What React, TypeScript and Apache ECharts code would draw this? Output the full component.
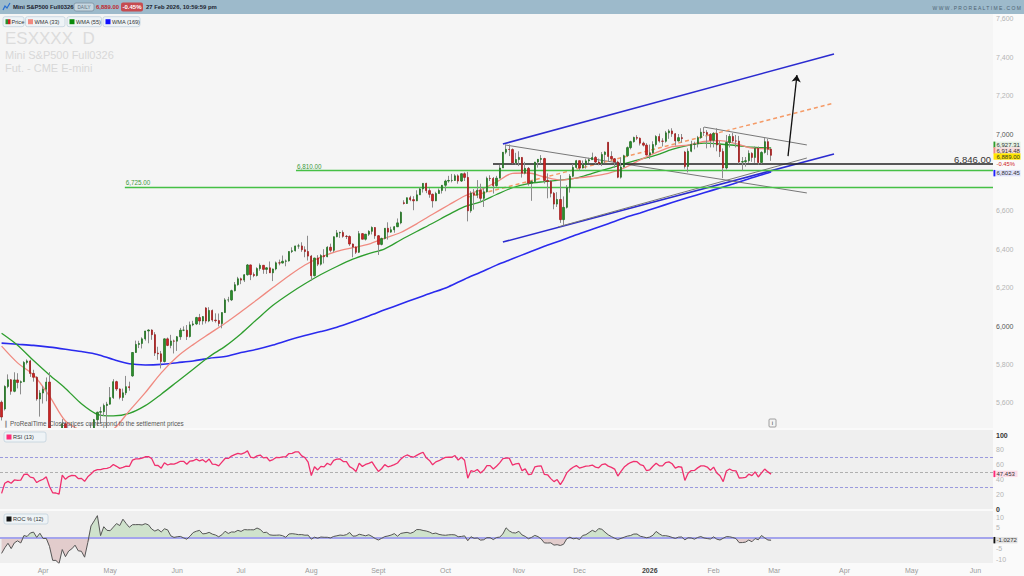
import React, { useEffect, useRef } from "react";
import * as echarts from "echarts";

const FONT = "Liberation Sans, Arial, sans-serif";

// ---------- calendar ----------
const firstSession = "2025-03-13";
const sessionCount = 311;
const holidays = ["2025-04-18","2025-05-26","2025-06-19","2025-07-04","2025-09-01","2025-11-27","2025-12-25","2026-01-01","2026-01-19","2026-02-16","2026-04-03","2026-05-25"];
const monthNames = ["2026","Feb","Mar","Apr","May","Jun","Jul","Aug","Sept","Oct","Nov","Dec"];

// ---------- price data (closes before the visible window, for indicators) ----------
const priorCloses = [6137,6152,6125,6021,5991,5963,5963,5867,5961,5855,5784,5848,5743,5775,5618,5576,5603];

// [open, close, low, high]
const candles: number[][] = [
[5603,5526,5508,5612],[5568,5685,5560,5691],[5685,5720,5676,5748],[5720,5660,5642,5724],[5660,5719,5655,5759],
[5719,5706,5675,5754],[5706,5710,5644,5716],[5710,5810,5708,5817],[5810,5818,5800,5826],[5818,5753,5735,5824],
[5753,5733,5710,5772],[5733,5620,5611,5738],[5620,5651,5528,5666],[5651,5671,5596,5688],[5671,5708,5608,5732],
[5708,5434,5427,5760],[5434,5110,5105,5450],[5110,5097,4870,5281],[5097,5017,4945,5302],[5017,5491,4891,5515],
[5491,5301,5148,5500],[5301,5396,5254,5414],[5396,5438,5390,5491],[5438,5428,5410,5481],[5428,5307,5251,5440],
[5307,5313,5285,5358],[5313,5187,5130,5318],[5187,5316,5180,5337],[5316,5403,5310,5496],[5403,5512,5390,5516],
[5512,5551,5481,5554],[5551,5554,5493,5579],[5554,5586,5531,5596],[5586,5593,5458,5605],[5593,5627,5590,5682],
[5627,5710,5620,5723],[5710,5672,5662,5715],[5672,5628,5618,5675],[5628,5652,5610,5674],[5652,5684,5640,5740],
[5684,5679,5663,5710],[5740,5862,5735,5864],[5862,5904,5860,5924],[5904,5909,5885,5923],[5909,5933,5883,5941],
[5933,5974,5924,5975],[5974,5979,5910,5983],[5979,5955,5928,5983],[5955,5859,5844,5968],[5859,5855,5824,5892],
[5855,5815,5779,5870],[5815,5933,5810,5936],[5933,5899,5895,5940],[5899,5922,5884,5954],[5922,5921,5857,5929],
[5921,5944,5870,5948],[5944,5978,5928,5990],[5978,5978,5973,5998],[5978,5945,5927,6005],[5945,6006,5940,6023],
[6006,6011,5999,6027],[6011,6044,6005,6048],[6044,6026,6006,6063],[6026,6049,6007,6052],[6094,6026,6013,6098],
[6026,6081,6020,6098],[6081,6031,6022,6086],[6031,6028,6018,6066],[6028,6013,5998,6065],[6013,6070,5988,6071],
[6070,6136,6068,6145],[6136,6136,6124,6152],[6136,6184,6130,6189],[6184,6215,6180,6229],[6215,6246,6210,6256],
[6246,6239,6218,6252],[6239,6267,6229,6270],[6267,6318,6262,6323],[6318,6268,6239,6320],[6268,6263,6254,6279],
[6263,6299,6258,6306],[6299,6316,6288,6326],[6316,6295,6272,6318],[6295,6303,6271,6307],[6303,6277,6276,6336],
[6277,6297,6234,6299],[6297,6329,6290,6336],[6329,6328,6316,6346],[6328,6337,6325,6367],[6337,6339,6311,6346],
[6339,6388,6335,6389],[6388,6392,6380,6410],[6392,6417,6388,6418],[6417,6417,6402,6428],[6417,6397,6386,6436],
[6397,6388,6358,6415],[6388,6364,6341,6470],[6364,6262,6236,6370],[6262,6354,6258,6356],[6354,6322,6312,6369],
[6322,6367,6315,6374],[6367,6361,6326,6400],[6361,6410,6358,6416],[6410,6394,6384,6429],[6394,6465,6384,6466],
[6465,6485,6462,6500],[6485,6487,6459,6491],[6487,6467,6460,6498],[6467,6466,6453,6474],[6466,6427,6417,6472],
[6427,6411,6358,6430],[6411,6384,6375,6415],[6384,6481,6380,6495],[6481,6452,6451,6484],[6452,6478,6445,6480],
[6478,6493,6469,6499],[6493,6513,6477,6519],[6513,6470,6454,6515],[6470,6425,6370,6474],[6425,6456,6420,6460],
[6456,6509,6451,6510],[6509,6489,6450,6540],[6489,6501,6485,6517],[6501,6517,6486,6520],[6517,6537,6515,6560],
[6537,6592,6530,6597],[6642,6638,6633,6655],[6638,6668,6636,6669],[6668,6658,6650,6678],[6658,6652,6603,6676],
[6652,6683,6650,6707],[6683,6714,6683,6721],[6714,6743,6695,6744],[6743,6705,6692,6746],[6705,6686,6668,6718],
[6686,6652,6617,6690],[6652,6690,6650,6699],[6690,6706,6690,6716],[6706,6733,6690,6734],[6733,6755,6702,6762],
[6755,6758,6746,6782],[6758,6758,6748,6792],[6758,6782,6755,6791],[6782,6755,6741,6790],[6755,6793,6750,6795],
[6793,6774,6755,6800],[6774,6600,6545,6803],[6600,6692,6590,6702],[6692,6681,6606,6713],[6681,6707,6666,6760],
[6707,6665,6645,6741],[6665,6699,6620,6718],[6699,6769,6695,6778],[6769,6768,6755,6785],[6768,6731,6690,6776],
[6731,6770,6725,6782],[6770,6823,6770,6839],[6823,6905,6823,6906],[6905,6920,6895,6945],[6920,6919,6885,6945],
[6919,6850,6845,6925],[6850,6867,6840,6902],[6867,6878,6833,6910],[6878,6796,6773,6880],[6796,6821,6790,6855],
[6821,6744,6731,6828],[6744,6752,6652,6760],[6752,6854,6750,6855],[6854,6868,6825,6870],[6868,6872,6845,6890],
[6872,6758,6742,6876],[6758,6753,6665,6795],[6753,6691,6670,6760],[6691,6635,6608,6698],[6635,6659,6620,6697],
[6659,6554,6537,6786],[6554,6618,6525,6675],[6618,6720,6612,6734],[6720,6780,6695,6791],[6780,6826,6775,6843],
[6826,6861,6820,6865],[6861,6823,6810,6862],[6823,6840,6820,6862],[6840,6860,6820,6872],[6860,6866,6849,6876],
[6866,6878,6865,6903],[6878,6854,6843,6885],[6854,6847,6837,6872],[6847,6893,6833,6906],[6893,6906,6848,6910],
[6957,6883,6857,6957],[6883,6871,6862,6910],[6871,6854,6824,6875],[6854,6775,6770,6861],[6775,6828,6768,6878],
[6828,6887,6825,6892],[6887,6929,6880,6935],[6929,6960,6920,6965],[6960,6982,6955,6986],[6982,6978,6968,6994],
[6978,6952,6940,6982],[6952,6942,6935,6960],[6942,6891,6888,6952],[6891,6902,6870,6945],[6902,6945,6898,6962],
[6945,6987,6935,6994],[6987,6963,6955,7002],[6963,6962,6935,6978],[6962,7006,6955,7016],[7006,7016,6975,7025],
[7016,7001,6985,7030],[7001,6964,6940,7005],[6964,6981,6960,7000],[6981,6976,6955,7000],[6906,6831,6820,6912],
[6831,6910,6800,6925],[6910,6946,6905,6965],[6946,6948,6920,6960],[6948,6981,6930,6990],[6981,7009,6975,7030],
[7009,7008,6990,7036],[7008,6998,6925,7020],[6998,6967,6930,7005],[6967,7003,6930,7010],[7003,6943,6910,7030],
[6943,6909,6880,6965],[6909,6823,6770,6925],[6823,6956,6815,6995],[6956,6987,6930,7000],[6987,6964,6955,7005],
[6964,6963,6930,6995],[6963,6854,6845,6990],[6854,6856,6810,6880],[6856,6861,6830,6880],[6861,6899,6850,6915],
[6899,6878,6855,6905],[6878,6925,6850,6935],[6925,6852,6840,6935],[6852,6904,6845,6910],[6904,6960,6898,6979],
[6960,6921,6890,6975],[6921,6889,6860,6925]
];

const maSessions = [0,5,10,15,20,25,30,35,40,45,50,55,60,65,70,75,80,85,90,95,100,105,110,115,120,125,130,135,140,145,150,155,160,165,170,175,180,185,190,195,200,205,210,215,220,225,230,235,240,241];
const wma33 = [5895,5808,5745,5635,5505,5455,5430,5462,5558,5653,5756,5840,5903,5959,6014,6074,6137,6200,6262,6318,6359,6389,6408,6426,6458,6487,6532,6582,6630,6677,6709,6750,6795,6797,6776,6760,6770,6780,6795,6823,6865,6903,6934,6942,6961,6966,6950,6927,6922,6914];
const wma55 = [5962,5900,5820,5745,5675,5595,5540,5532,5545,5585,5645,5710,5775,5840,5894,5960,6035,6108,6167,6220,6268,6310,6348,6377,6402,6448,6492,6535,6580,6622,6647,6685,6720,6742,6752,6760,6770,6795,6820,6845,6868,6890,6920,6941,6952,6948,6940,6932,6928,6927];
const wma169 = [5911,5905,5899,5890,5879,5867,5852,5825,5803,5797,5800,5809,5818,5832,5841,5862,5879,5901,5927,5950,5971,5994,6022,6052,6084,6115,6145,6174,6205,6244,6280,6317,6350,6383,6415,6444,6475,6504,6533,6563,6589,6616,6643,6669,6694,6719,6745,6772,6797,6802];

// last values shown on the price scale
const lastWma55 = 6927.31;
const lastWma33 = 6914.48;
const lastPrice = 6889.0;
const lastChange = "-0.45%";
const lastWma169 = 6802.45;
const lastRsi = "47.453";
const lastRoc = "-1.0272";

// drawn objects: [session index, price]
const trendlines = [
  { id: "chanTop", from: [157.0, 6948], to: [260.7, 7417] },
  { id: "chanBot", from: [157.0, 6437], to: [260.7, 6896] },
  { id: "grayDown", from: [157.7, 6943], to: [252.2, 6693] },
  { id: "grayDown2", from: [220.0, 7036], to: [252.2, 6943] },
  { id: "grayUp", from: [174.3, 6516], to: [252.2, 6875] },
  { id: "orange", from: [146.1, 6672], to: [260.7, 7161] },
];
const arrowLine = { from: [246.3, 6885], to: [249.1, 7307] };
const levels = [
  { id: "black", price: 6846, fromSession: 153.9 },
  { id: "green1", price: 6810, fromSession: 92.2 },
  { id: "green2", price: 6725, fromSession: 38.6 },
];

// axis ticks (6,800 is hidden behind the value tags in the reference)
const priceTicks = [5600,5800,6000,6200,6400,6600,7000,7200,7400,7600];
const rsiTicks = [0,20,40,60,80,100];
const rocTicks = [-10,-5,5,10];
const rsiGuides = [70, 50, 30];

const lineStyles: Record<string, any> = {
  chanTop: { color: "#2b2bd0", width: 1.6, opacity: 1 },
  chanBot: { color: "#2b2bd0", width: 1.6, opacity: 1 },
  grayDown: { color: "#777", width: 1, opacity: 1 },
  grayDown2: { color: "#777", width: 1, opacity: 1 },
  grayUp: { color: "#777", width: 1, opacity: 1 },
  orange: { color: "#f59a66", width: 1.5, type: [4, 3], opacity: 1 },
  black: { color: "#222", width: 1.5, opacity: 1 },
  green1: { color: "#46c046", width: 1.3, opacity: 1 },
  green2: { color: "#46c046", width: 1.3, opacity: 1 },
};

function buildSessions(): string[] {
  const out: string[] = [];
  const hol = new Set(holidays);
  const d = new Date(firstSession + "T00:00:00Z");
  while (out.length < sessionCount) {
    const wd = d.getUTCDay();
    const s = d.toISOString().slice(0, 10);
    if (wd !== 0 && wd !== 6 && !hol.has(s)) out.push(s);
    d.setUTCDate(d.getUTCDate() + 1);
  }
  return out;
}

function calcRsi(closes: number[], n: number): (number | null)[] {
  const out: (number | null)[] = closes.map(() => null);
  let g = 0, l = 0;
  for (let i = 1; i <= n; i++) {
    const ch = closes[i] - closes[i - 1];
    if (ch > 0) g += ch; else l -= ch;
  }
  g /= n; l /= n;
  out[n] = l === 0 ? 100 : 100 - 100 / (1 + g / l);
  for (let i = n + 1; i < closes.length; i++) {
    const ch = closes[i] - closes[i - 1];
    g = (g * (n - 1) + Math.max(ch, 0)) / n;
    l = (l * (n - 1) + Math.max(-ch, 0)) / n;
    out[i] = l === 0 ? 100 : 100 - 100 / (1 + g / l);
  }
  return out;
}

function calcRoc(closes: number[], n: number): (number | null)[] {
  return closes.map((c, i) => (i >= n ? (c / closes[i - n] - 1) * 100 : null));
}

const fmt = (v: number, d = 0) => v.toLocaleString("en-US", { minimumFractionDigits: d, maximumFractionDigits: d });

export default function App() {
  const ref = useRef<HTMLDivElement>(null);
  useEffect(() => {
    if (!ref.current) return;
    const chart = echarts.init(ref.current, undefined, { renderer: "svg" });
    const sessions = buildSessions();
    const N = sessions.length;
    const closes = [...priorCloses, ...candles.map((c) => c[1])];
    const rsiAll = calcRsi(closes, 13).slice(priorCloses.length);
    const rocAll = calcRoc(closes, 12).slice(priorCloses.length);
    const monthStart = sessions.map((s, i) => i > 0 && s.slice(5, 7) !== sessions[i - 1].slice(5, 7));

    const PMIN = 5468.75, PMAX = 7625;
    const RMIN = 0, RMAX = 106.8;
    const OMIN = -11.9, OMAX = 12.86;
    const BG = "#fafafa";

    const xCat = (grid: number, showLabels: boolean) => ({
      type: "category", gridIndex: grid, data: sessions, boundaryGap: true, z: 12,
      axisLine: { show: false }, axisTick: { show: false }, splitLine: { show: false },
      axisLabel: showLabels ? {
        show: true, interval: (i: number) => monthStart[i], margin: 4,
        fontSize: 7, color: "#9a9a9a", fontFamily: FONT,
        formatter: (v: string) => {
          const m = parseInt(v.slice(5, 7), 10) - 1;
          return m === 0 ? "{yr|" + v.slice(0, 4) + "}" : monthNames[m];
        },
        rich: { yr: { fontWeight: "bold", color: "#444", fontSize: 7, fontFamily: FONT } },
      } : { show: false },
    });
    const xVal = (grid: number) => ({ type: "value", gridIndex: grid, min: -0.5, max: N - 0.5, show: false });

    const wickData = candles.map((c) => c);
    const bodyData = candles.map((c) => [c[0], c[1], Math.min(c[0], c[1]), Math.max(c[0], c[1])]);

    const maSeries = (name: string, vals: number[], color: string, width: number) => ({
      type: "line", name, xAxisIndex: 1, yAxisIndex: 0, data: maSessions.map((s, k) => [s, vals[k]]),
      showSymbol: false, smooth: 0.3, lineStyle: { color, width }, silent: true, z: 3,
    });

    const lineData = [
      ...trendlines.map((t) => ({ coords: [t.from, t.to], lineStyle: lineStyles[t.id] })),
      ...levels.map((l) => ({ coords: [[l.fromSession, l.price], [N - 0.5, l.price]], lineStyle: lineStyles[l.id] })),
    ];

    const axisLabelBase = { fontSize: 7, fontFamily: FONT, margin: 3 };

    chart.setOption({
      animation: false,
      backgroundColor: BG,
      grid: [
        { left: 0, top: 14, width: 993, height: 414, show: true, backgroundColor: "#f5f5f5", borderWidth: 0 },
        { left: 0, top: 430, width: 993, height: 79, show: false },
        { left: 0, top: 511, width: 993, height: 52, show: false },
      ],
      xAxis: [xCat(0, false), xVal(0), xCat(1, false), xCat(2, true)],
      yAxis: [
        { type: "value", gridIndex: 0, position: "right", min: PMIN, max: PMAX, z: 12,
          axisLine: { show: false }, axisTick: { show: false }, splitLine: { show: false },
          axisLabel: { ...axisLabelBase, customValues: priceTicks,
            formatter: (v: number) => (v % 1000 === 0 ? "{k|" + fmt(v) + "}" : fmt(v)), color: "#b4b4b4",
            rich: { k: { color: "#555", fontSize: 7, fontFamily: FONT } } } },
        { type: "value", gridIndex: 1, position: "right", min: RMIN, max: RMAX, z: 12,
          axisLine: { show: false }, axisTick: { show: false }, splitLine: { show: false },
          axisLabel: { ...axisLabelBase, customValues: rsiTicks, color: "#b4b4b4",
            formatter: (v: number) => (v === 0 || v === 100 ? "{k|" + v + "}" : String(v)),
            rich: { k: { color: "#333", fontWeight: "bold", fontSize: 7, fontFamily: FONT } } } },
        { type: "value", gridIndex: 2, position: "right", min: OMIN, max: OMAX, z: 12,
          axisLine: { show: false }, axisTick: { show: false }, splitLine: { show: false },
          axisLabel: { ...axisLabelBase, customValues: rocTicks, color: "#b4b4b4" } },
      ],
      series: [
        maSeries("WMA (169)", wma169, "#2a2aee", 1.6),
        maSeries("WMA (55)", wma55, "#2e9e2e", 1.3),
        maSeries("WMA (33)", wma33, "#f08a80", 1.3),
        { type: "lines", coordinateSystem: "cartesian2d", xAxisIndex: 1, yAxisIndex: 0, data: lineData,
          silent: true, z: 4, symbol: "none", lineStyle: { opacity: 1 } },
        { type: "lines", coordinateSystem: "cartesian2d", xAxisIndex: 1, yAxisIndex: 0,
          data: [{ coords: [arrowLine.from, arrowLine.to] }], symbol: ["none", "arrow"], symbolSize: 7,
          lineStyle: { color: "#111", width: 1.3, opacity: 1 }, silent: true, z: 6 },
        { type: "candlestick", name: "wicks", xAxisIndex: 0, yAxisIndex: 0, data: wickData, barWidth: 1, z: 5,
          itemStyle: { color: "#8c8c8c", color0: "#8c8c8c", borderColor: "#8c8c8c", borderColor0: "#8c8c8c", borderWidth: 1 } },
        { type: "candlestick", name: "Price", xAxisIndex: 0, yAxisIndex: 0, data: bodyData, barWidth: 1.8, z: 6,
          itemStyle: { color: "#2b8f2b", color0: "#cc2424", borderColor: "#1f6e1f", borderColor0: "#9c1a1a", borderWidth: 0.7 } },
        { type: "line", name: "RSI", xAxisIndex: 2, yAxisIndex: 1, data: rsiAll, showSymbol: false,
          lineStyle: { color: "#f0306e", width: 1.3 }, z: 10,
          markLine: { silent: true, symbol: "none", label: { show: false }, z: 10,
            data: rsiGuides.map((g) => ({ yAxis: g, lineStyle: { color: g === 50 ? "#b0b0b0" : "#9a9ade", type: [3, 2], width: 1 } })) } },
        { type: "line", xAxisIndex: 3, yAxisIndex: 2, data: rocAll.map((v) => (v === null ? null : Math.max(v, 0))),
          showSymbol: false, lineStyle: { width: 0 }, areaStyle: { color: "#cfe2cc", origin: 0, opacity: 1 }, z: 9 },
        { type: "line", xAxisIndex: 3, yAxisIndex: 2, data: rocAll.map((v) => (v === null ? null : Math.min(v, 0))),
          showSymbol: false, lineStyle: { width: 0 }, areaStyle: { color: "#e2cccc", origin: 0, opacity: 1 }, z: 9 },
        { type: "line", name: "ROC", xAxisIndex: 3, yAxisIndex: 2, data: rocAll, showSymbol: false,
          lineStyle: { color: "#555", width: 1 }, z: 10,
          markLine: { silent: true, symbol: "none", label: { show: false }, z: 10,
            data: [{ yAxis: 0, lineStyle: { color: "#a4a4ec", type: "solid", width: 2 } }] } },
      ],
    });

    const py = (v: number) => chart.convertToPixel({ yAxisIndex: 0 }, v) as number;
    const ry = (v: number) => chart.convertToPixel({ yAxisIndex: 1 }, v) as number;
    const oy = (v: number) => chart.convertToPixel({ yAxisIndex: 2 }, v) as number;
    const px = (s: number) => chart.convertToPixel({ xAxisIndex: 1 }, s) as number;

    const txt = (x: number, y: number, text: string, o: any = {}) => ({
      type: "text", x, y, silent: true, z: 100,
      style: { text, fill: o.fill || "#333", fontSize: o.fontSize || 7, fontFamily: FONT, fontWeight: o.fontWeight || "normal",
        textAlign: o.align || "left", align: o.align || "left", textVerticalAlign: "middle", verticalAlign: "middle" },
    });
    const rect = (x: number, y: number, w: number, h: number, fill: string, stroke?: string, r = 0, z = 99) => ({
      type: "rect", silent: true, z, shape: { x, y, width: w, height: h, r },
      style: { fill, stroke: stroke || "none", lineWidth: stroke ? 0.8 : 0 },
    });
    const tag = (y: number, text: string, bg: string, bar: string | null, color: string, w = 27) => [
      rect(993.5, y - 3.2, w, 6.4, bg),
      ...(bar ? [rect(993.5, y - 3.2, 1.8, 6.4, bar)] : []),
      txt(996.5, y, text, { fill: color, fontSize: 6 }),
    ];
    const legendBox = (x: number, w: number, color: string | null, label: string, y = 16.7) => [
      rect(x, y, w, 10, "#eef3f6", "#c2d2dd", 2),
      ...(color ? [rect(x + 2.5, y + 2.5, 5, 5, color)] : []),
      txt(x + 9, y + 5, label, { fontSize: 5.6 }),
    ];

    const priceY = py(lastPrice);
    const g: any[] = [
      // cover for price overflow below the main panel, then indicator panels
      rect(0, 428, 1024, 148, BG, undefined, 0, 7),
      rect(0, 430, 993, 79, "#efefef", undefined, 0, 8),
      rect(0, 511, 993, 52, "#efefef", undefined, 0, 8),
      // top bar
      rect(0, 0, 1024, 14, "#9dbacb"),
      { type: "polyline", silent: true, z: 100, shape: { points: [[3, 10], [5, 6], [7, 8], [10, 3]] }, style: { stroke: "#2a6fd0", lineWidth: 1.2, fill: "none" } },
      txt(13, 7, "Mini S&P500 Full0326", { fontWeight: "bold", fontSize: 5.9, fill: "#1c2430" }),
      rect(74, 3, 20, 8, "#c5d6e0", "#7d93a2", 2),
      txt(84, 7, "DAILY", { fontSize: 4.6, fill: "#5d6e7a", align: "center" }),
      txt(96, 7, fmt(lastPrice, 2), { fontWeight: "bold", fontSize: 5.9, fill: "#c0282d" }),
      rect(121, 2.5, 22, 9, "#c64b50", undefined, 2),
      txt(132, 7, lastChange, { fontWeight: "bold", fontSize: 6, fill: "#fff", align: "center" }),
      txt(146, 7, "27 Feb 2026, 10:59:59 pm", { fontWeight: "bold", fontSize: 5.9, fill: "#1c2430" }),
      txt(1021, 8, "W W W . P R O R E A L T I M E . C O M", { fontSize: 5, fill: "#4f6474", align: "right" }),
      // legend
      rect(3, 16.7, 21, 10, "#eef3f6", "#c2d2dd", 2),
      rect(5.5, 19.2, 2.5, 5, "#2b8f2b"), rect(8, 19.2, 2.5, 5, "#cc2424"),
      txt(11.5, 21.7, "Price", { fontSize: 5.6 }),
      ...legendBox(25.5, 39.5, "#f08a80", "WMA (33)"),
      ...legendBox(67, 34.5, "#0a8a0a", "WMA (55)"),
      ...legendBox(103, 37, "#1010ff", "WMA (169)"),
      // watermark
      txt(5, 38.5, "ESXXXX  D", { fontSize: 17, fill: "#dcdcdc" }),
      txt(5, 54.5, "Mini S&P500 Full0326", { fontSize: 11, fill: "#d8d8d8" }),
      txt(5, 68, "Fut. - CME E-mini", { fontSize: 11, fill: "#d8d8d8" }),
      // footer of price panel
      txt(3, 423, "\u2759", { fontSize: 7, fill: "#888" }),
      txt(10, 423, "ProRealTime", { fontSize: 6.3, fill: "#555" }),
      txt(49, 423, "Close prices correspond to the settlement prices", { fontSize: 6.3, fill: "#555" }),
      rect(769, 419, 7, 8, "#f4f4f4", "#888", 1),
      txt(772.5, 423, "i", { fontSize: 6, fill: "#333", align: "center" }),
      // level labels
      txt(px(levels[1].fromSession) + 1, py(levels[1].price) - 4, fmt(levels[1].price, 2), { fontSize: 6.3, fill: "#3d9a3d" }),
      txt(px(levels[2].fromSession) + 1, py(levels[2].price) - 4, fmt(levels[2].price, 2), { fontSize: 6.3, fill: "#3d9a3d" }),
      txt(991, py(levels[0].price) - 4.5, fmt(levels[0].price, 2), { fontSize: 9.5, fill: "#333", align: "right" }),
      // price scale tags
      ...tag(priceY - 10.5, fmt(lastWma55, 2), "#e4f1e4", "#2e9e2e", "#333"),
      ...tag(priceY - 4.8, fmt(lastWma33, 2), "#f7dcdc", "#f08a80", "#333"),
      ...tag(priceY + 1.2, fmt(lastPrice, 2), "#ffe600", null, "#333"),
      txt(996.5, priceY + 8.3, lastChange, { fontSize: 5.8, fill: "#d02525" }),
      ...tag(py(lastWma169) + 1.2, fmt(lastWma169, 2), "#dfe2fb", "#2020ff", "#333"),
      // RSI panel
      ...legendBox(4, 42, "#ff2a78", "RSI (13)", 432),
      ...tag(ry(parseFloat(lastRsi)), lastRsi, "#fcdce8", "#ff2a78", "#333", 24),
      // ROC panel
      ...legendBox(4, 44, "#111", "ROC % (12)", 514),
      ...tag(oy(parseFloat(lastRoc)), lastRoc, "#e2e2e2", "#111", "#333", 24),
    ];
    chart.setOption({ graphic: g });

    return () => chart.dispose();
  }, []);
  return <div ref={ref} style={{ position: "fixed", left: 0, top: 0, width: 1024, height: 576 }} />;
}
